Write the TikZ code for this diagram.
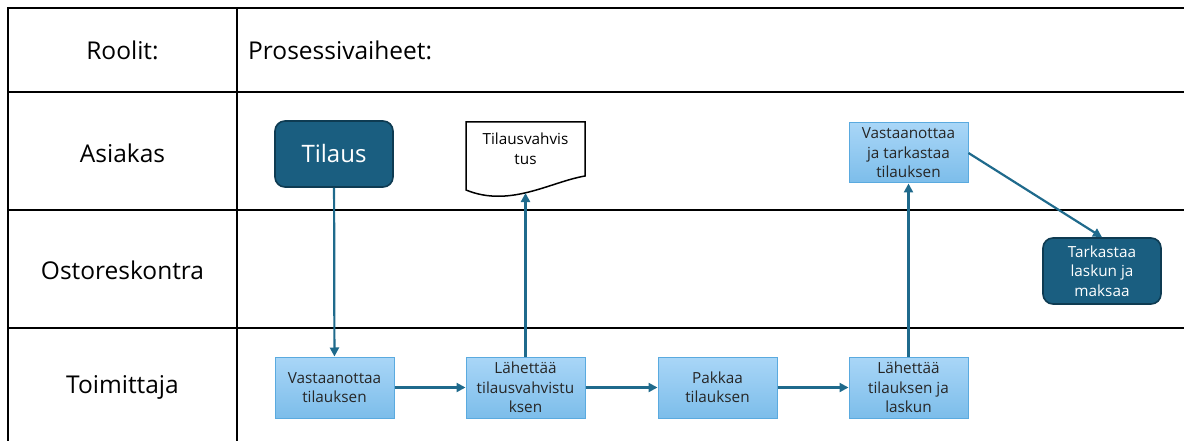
\documentclass[tikz,border=0pt]{standalone}
\usepackage{fontspec}
\setmainfont{Open Sans}
\usetikzlibrary{arrows.meta}
\definecolor{darkteal}{HTML}{1A5E80}
\definecolor{darkedge}{HTML}{0E3B52}
\definecolor{arrowblue}{HTML}{1F6A8C}
\definecolor{boxtop}{HTML}{A9D6F7}
\definecolor{boxbottom}{HTML}{7CBDEA}
\definecolor{boxedge}{HTML}{5AAADF}
\tikzset{
  lanelabels/.style={font=\fontsize{24.5}{29}\selectfont},
  boxtext/.style={font=\fontsize{15.3}{19.5}\selectfont, align=center, inner sep=1pt},
  stepbox/.style={boxtext, draw=boxedge, line width=1pt, top color=boxtop,
                  bottom color=boxbottom, text=black!85,
                  minimum width=119pt, minimum height=61pt},
  darkbox/.style={boxtext, draw=darkedge, line width=1.6pt, fill=darkteal,
                  text=white, rounded corners=10pt,
                  minimum width=118pt, minimum height=66pt},
  flowarrow/.style={draw=arrowblue, line width=2.2pt,
                    -{Triangle[length=9pt,width=9pt]}},
  lane/.style={line width=2.4pt},
}

\begin{document}
\begin{tikzpicture}[
  x=1pt,
  y=-1pt,
]
\useasboundingbox (0,0) rectangle (1184,441);

\draw [lane] (8,441) -- (8,8) -- (1184,8);
\draw [lane] (237,8) -- (237,441);
\foreach \y in {92,210,328}
  \draw [lane] (8,\y) -- (1184,\y);

\foreach [count=\i from 0] \y/\t in
                  {50/Roolit:,
                   153/Asiakas,
                   270/Ostoreskontra,
                   387/Toimittaja}
  {
   \node [lanelabels, name=r-\i] at (122.5,\y) {\t};
  }
\node [lanelabels, anchor=west, inner sep=0pt, name=header] at (248,50) {Prosessivaiheet:};

\foreach [count=\i] \x/\t in
                  {334.5/Vastaanottaa\\tilauksen,
                   525.5/Lähettää\\tilausvahvistu\\ksen,
                   717.5/Pakkaa\\tilauksen,
                   908.5/Lähettää\\tilauksen ja\\laskun}
  {
   \node [stepbox, name=t-\i] at (\x,387.5) {\t};
  }
\foreach \i [count=\j from 2] in {1,2,3}
  \draw [flowarrow] (t-\i) -- (t-\j);

\node [darkbox, font=\fontsize{24}{28}\selectfont, name=tilaus] at (334,154) {Tilaus};
\draw [line width=1.5pt, fill=white] (466,190) -- (466,122) -- (585,122) -- (585,176)
      .. controls (550,182) and (510,208) .. cycle;
\node [boxtext, name=doc] at (525.5,149) {Tilausvahvis\\tus};
\coordinate (doc-wave) at (525.5,193);
\node [stepbox, minimum height=60pt, name=check] at (908.5,153)
      {Vastaanottaa\\ja tarkastaa\\tilauksen};
\node [darkbox, name=pay] at (1102,271) {Tarkastaa\\laskun ja\\maksaa};

\draw [flowarrow] (tilaus) -- (t-1);
\draw [flowarrow] (t-2) -- (doc-wave);
\draw [flowarrow] (t-4) -- (check);
\draw [flowarrow] (check.east) -- (pay.north);

\end{tikzpicture}
\end{document}
